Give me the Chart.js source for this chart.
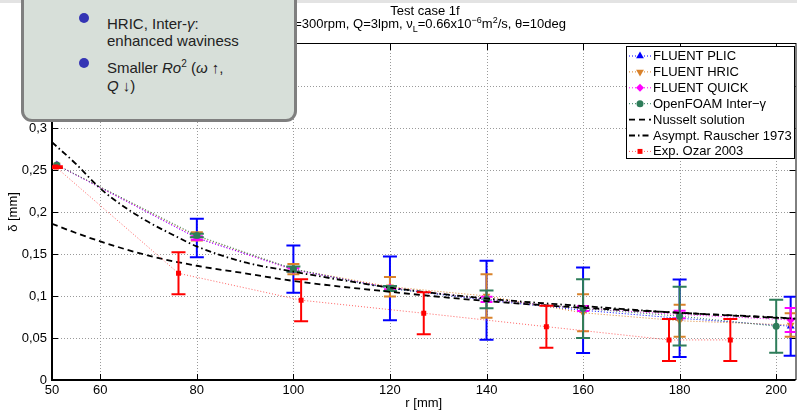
<!DOCTYPE html>
<html>
<head>
<meta charset="utf-8">
<title>Test case 1f</title>
<script src="https://cdn.jsdelivr.net/npm/chart.js@4.4.0/dist/chart.umd.min.js"></script>
<style>
  html, body { margin: 0; padding: 0; background: #fff; overflow: hidden; }
  body { width: 797px; height: 410px; position: relative; font-family: 'Liberation Sans', Arial, sans-serif; }
  #wrap { position: absolute; left: 0; top: 0; width: 800px; height: 410px; }
  #topbar { position: absolute; left: 0; top: 0; width: 797px; height: 3px; background: #e3e3e3; }
  .note { position: absolute; left: 21px; top: -30px; width: 270px; height: 146px;
          background: #d7dfd9; border: 3px solid #7f7f7f; border-radius: 11px; }
  .dot { position: absolute; width: 10px; height: 10px; border-radius: 50%; background: #3434b4; }
  .line { position: absolute; left: 107px; font-size: 15px; line-height: 15px; color: #222; white-space: nowrap; }
  .line i { font-style: italic; }
  .line sup { font-size: 10px; vertical-align: 6px; line-height: 0; }
</style>
</head>
<body>
<div id="wrap"><canvas id="chart"></canvas></div>
<div id="topbar"></div>
<div class="note"></div>
<div class="dot" style="left:79px; top:13px;"></div>
<div class="line" style="top:16px;">HRIC, Inter-<i>γ</i>:</div>
<div class="line" style="top:33px;">enhanced waviness</div>
<div class="dot" style="left:79px; top:58px;"></div>
<div class="line" style="top:60px;">Smaller <i>Ro</i><sup>2</sup> (<i>ω</i> ↑,</div>
<div class="line" style="top:78px;"><i>Q</i> ↓)</div>

<script>
// axis ticks
const xTicks = [50, 60, 80, 100, 120, 140, 160, 180, 200];
const yTicks = [0, 0.05, 0.1, 0.15, 0.2, 0.25, 0.3, 0.35, 0.4];

// simulations (r in mm, film thickness in mm, +/- spread)
const rSim = [51, 80, 100, 120, 140, 160, 180, 203];
const plic = [0.256, 0.169, 0.132, 0.109, 0.095, 0.083, 0.0735, 0.064];
const plicErr = [0, 0.023, 0.028, 0.038, 0.047, 0.051, 0.046, 0.035];
const hric = [0.256, 0.171, 0.132, 0.111, 0.100, 0.080, 0.0705, 0.0655];
const hricErr = [0, 0.005, 0.006, 0.0116, 0.026, 0.022, 0.019, 0.014];
const quick = [0.256, 0.169, 0.131, 0.110, 0.096, 0.085, 0.078, 0.0715];
const quickErr = [0, 0.002, 0.002, 0.002, 0.003, 0.003, 0.0045, 0.0143];
const rGamma = [51, 80, 100, 120, 140, 160, 180, 200];
const gamma = [0.256, 0.172, 0.132, 0.109, 0.096, 0.085, 0.076, 0.064];
const gammaErr = [0, 0.002, 0.003, 0.003, 0.0105, 0.035, 0.035, 0.0316];

// analytical curves
const rNus = [50, 55, 60, 70, 80, 90, 100, 120, 140, 160, 180, 200, 204];
const nusselt = [0.186, 0.175, 0.165, 0.148, 0.136, 0.127, 0.118, 0.105, 0.094, 0.086, 0.080, 0.074, 0.073];
const rRau = [50, 55, 60, 65, 70, 75, 80, 90, 100, 110, 120, 140, 160, 180, 200, 204];
const rauscher = [0.283, 0.257, 0.228, 0.206, 0.188, 0.173, 0.159, 0.140, 0.129, 0.119, 0.110, 0.097, 0.088, 0.080, 0.0745, 0.073];

// experiment
const rExp = [50.8, 76.2, 101.6, 127, 152.4, 177.8, 190.5];
const expVals = [0.2535, 0.127, 0.095, 0.0795, 0.0635, 0.0477, 0.0477];
const expErr = [0.001, 0.025, 0.025, 0.025, 0.025, 0.025, 0.025];

const FONT = "'Liberation Sans', Arial, sans-serif";
const pts = (xs, ys) => xs.map((x, i) => ({ x, y: ys[i] }));

function simSet(label, xs, ys, errs, color, style, radius, rotation, cap) {
  return {
    label, data: pts(xs, ys), errors: errs, capWidth: cap,
    borderColor: color, backgroundColor: color, borderWidth: 1, borderDash: [1, 2],
    pointStyle: style, pointRadius: radius, pointRotation: rotation || 0,
    pointBorderWidth: 0, tension: 0
  };
}

// index 0 ends up on top
const datasets = [
  simSet('Exp. Ozar 2003', rExp, expVals, expErr, '#ff0000', 'rect', 3.5, 0, 14),
  { label: 'Asympt. Rauscher 1973', data: pts(rRau, rauscher), borderColor: '#000', borderWidth: 1.8,
    borderDash: [6, 3, 1.5, 3], pointRadius: 0, cubicInterpolationMode: 'monotone' },
  { label: 'Nusselt solution', data: pts(rNus, nusselt), borderColor: '#000', borderWidth: 1.8,
    borderDash: [6, 4], pointRadius: 0, cubicInterpolationMode: 'monotone' },
  simSet('OpenFOAM Inter\u2212\u03b3', rGamma, gamma, gammaErr, '#2e7d5a', 'circle', 3.5, 0, 14),
  simSet('FLUENT QUICK', rSim, quick, quickErr, '#ff00ff', 'rectRot', 4, 0, 12),
  simSet('FLUENT HRIC', rSim, hric, hricErr, '#d9822b', 'triangle', 4.5, 180, 12),
  simSet('FLUENT PLIC', rSim, plic, plicErr, '#0000ff', 'triangle', 4.5, 0, 14)
];
datasets[0].borderColor = 'rgba(255,70,70,0.85)';

const legendOrder = [6, 5, 4, 3, 2, 1, 0];

// dotted grid, axis frame and inward ticks
const framePlugin = {
  id: 'frame',
  beforeDatasetsDraw(chart) {
    const { ctx, chartArea: a, scales: { x, y } } = chart;
    ctx.save();
    ctx.strokeStyle = '#9a9a9a';
    ctx.lineWidth = 1;
    ctx.setLineDash([1, 2]);
    xTicks.slice(1).forEach(v => {
      const px = Math.round(x.getPixelForValue(v)) + 0.5;
      ctx.beginPath(); ctx.moveTo(px, a.top); ctx.lineTo(px, a.bottom); ctx.stroke();
    });
    yTicks.slice(1, -1).forEach(v => {
      const py = Math.round(y.getPixelForValue(v)) + 0.5;
      ctx.beginPath(); ctx.moveTo(a.left, py); ctx.lineTo(a.right, py); ctx.stroke();
    });
    ctx.setLineDash([]);
    ctx.strokeStyle = '#000';
    ctx.lineWidth = 1;
    xTicks.slice(1).forEach(v => {
      const px = Math.round(x.getPixelForValue(v)) + 0.5;
      ctx.beginPath();
      ctx.moveTo(px, a.bottom); ctx.lineTo(px, a.bottom - 6);
      ctx.moveTo(px, a.top); ctx.lineTo(px, a.top + 6);
      ctx.stroke();
    });
    yTicks.slice(1, -1).forEach(v => {
      const py = Math.round(y.getPixelForValue(v)) + 0.5;
      ctx.beginPath();
      ctx.moveTo(a.left, py); ctx.lineTo(a.left + 6, py);
      ctx.moveTo(a.right, py); ctx.lineTo(a.right - 6, py);
      ctx.stroke();
    });
    ctx.strokeRect(Math.round(a.left) + 0.5, Math.round(a.top) - 0.5, a.right - a.left, a.bottom - a.top);
    ctx.lineWidth = 2;
    ctx.beginPath();
    ctx.moveTo(a.left, a.top); ctx.lineTo(a.left, a.bottom); ctx.lineTo(a.right, a.bottom);
    ctx.stroke();
    ctx.restore();
  }
};

// vertical error bars with caps, drawn under each series' own markers
const errorBarPlugin = {
  id: 'errorBars',
  beforeDatasetDraw(chart, args) {
    const ds = chart.data.datasets[args.index];
    if (!ds.errors) return;
    const { ctx, chartArea: a, scales: { x, y } } = chart;
    ctx.save();
    ctx.beginPath(); ctx.rect(a.left, a.top, a.right - a.left, a.bottom - a.top); ctx.clip();
    ctx.strokeStyle = ds.backgroundColor;
    ctx.lineWidth = 2;
    const half = ds.capWidth / 2;
    ds.data.forEach((p, i) => {
      const e = ds.errors[i];
      if (!e) return;
      const px = x.getPixelForValue(p.x);
      const top = y.getPixelForValue(p.y + e);
      const bot = y.getPixelForValue(p.y - e);
      ctx.beginPath();
      ctx.moveTo(px, top); ctx.lineTo(px, bot);
      ctx.moveTo(px - half, top); ctx.lineTo(px + half, top);
      ctx.moveTo(px - half, bot); ctx.lineTo(px + half, bot);
      ctx.stroke();
    });
    ctx.restore();
  }
};

const legendPlugin = {
  id: 'boxLegend',
  afterDraw(chart) {
    const { ctx } = chart;
    const left = 626, top = 46, w = 168, h = 112;
    ctx.save();
    ctx.fillStyle = '#fff';
    ctx.fillRect(left, top, w, h);
    ctx.strokeStyle = '#000';
    ctx.lineWidth = 1;
    ctx.strokeRect(left + 0.5, top + 0.5, w, h);
    ctx.font = '13px ' + FONT;
    ctx.textBaseline = 'middle';
    legendOrder.forEach((idx, k) => {
      const ds = chart.data.datasets[idx];
      const cy = 56 + k * 15.9;
      ctx.strokeStyle = ds.borderColor;
      ctx.lineWidth = ds.borderWidth;
      ctx.setLineDash(ds.borderDash || []);
      ctx.beginPath(); ctx.moveTo(629, cy); ctx.lineTo(651, cy); ctx.stroke();
      ctx.setLineDash([]);
      if (ds.pointRadius) {
        ctx.fillStyle = ds.backgroundColor;
        Chart.helpers.drawPoint(ctx, {
          pointStyle: ds.pointStyle, radius: ds.pointRadius,
          rotation: ds.pointRotation, borderWidth: 0
        }, 640, cy);
      }
      ctx.fillStyle = '#000';
      ctx.fillText(ds.label, 653, cy + 0.5);
    });
    ctx.restore();
  }
};

// title lines and axis names
const labelsPlugin = {
  id: 'labels',
  afterDraw(chart) {
    const { ctx, chartArea: a } = chart;
    const cx = 425;
    ctx.save();
    ctx.fillStyle = '#000';
    ctx.textBaseline = 'alphabetic';
    ctx.textAlign = 'center';
    ctx.font = '13px ' + FONT;
    ctx.fillText('Test case 1f', cx, 15);

    const parts = [
      { t: '\u03c9=300rpm, Q=3lpm, \u03bd' },
      { t: 'L', dy: 4, s: 9 },
      { t: '=0.66x10' },
      { t: '\u22126', dy: -5, s: 9 },
      { t: 'm' },
      { t: '2', dy: -5, s: 9 },
      { t: '/s, \u03b8=10deg' }
    ];
    ctx.textAlign = 'left';
    const widths = parts.map(p => { ctx.font = (p.s || 13) + 'px ' + FONT; return ctx.measureText(p.t).width; });
    let px = cx - widths.reduce((s, v) => s + v, 0) / 2;
    parts.forEach((p, i) => {
      ctx.font = (p.s || 13) + 'px ' + FONT;
      ctx.fillText(p.t, px, 27.5 + (p.dy || 0));
      px += widths[i];
    });

    ctx.font = '13px ' + FONT;
    ctx.textAlign = 'center';
    ctx.textBaseline = 'middle';
    ctx.fillText('r [mm]', (a.left + a.right) / 2, 403);
    ctx.translate(13, (a.top + a.bottom) / 2);
    ctx.rotate(-Math.PI / 2);
    ctx.fillText('\u03b4 [mm]', 0, 0);
    ctx.restore();
  }
};

new Chart(document.getElementById('chart'), {
  type: 'line',
  data: { datasets },
  options: {
    responsive: true,
    maintainAspectRatio: false,
    animation: false,
    layout: { padding: { top: 44, right: 2, left: 0, bottom: 0 } },
    plugins: { legend: { display: false }, tooltip: { enabled: false } },
    scales: {
      x: {
        type: 'linear', min: 50, max: 204,
        grid: { display: false, drawTicks: false }, border: { display: false },
        afterBuildTicks: s => { s.ticks = xTicks.map(v => ({ value: v })); },
        afterFit: s => { s.height = 30; },
        ticks: { color: '#000', font: { family: FONT, size: 13 }, padding: 3, maxRotation: 0, autoSkip: false }
      },
      y: {
        min: 0, max: 0.4,
        grid: { display: false, drawTicks: false }, border: { display: false },
        afterBuildTicks: s => { s.ticks = yTicks.map(v => ({ value: v })); },
        afterFit: s => { s.width = 52; },
        ticks: {
          color: '#000', font: { family: FONT, size: 13 }, padding: 5,
          callback: v => String(+v.toFixed(2)).replace('.', ',')
        }
      }
    }
  },
  plugins: [framePlugin, errorBarPlugin, legendPlugin, labelsPlugin]
});
</script>
</body>
</html>
